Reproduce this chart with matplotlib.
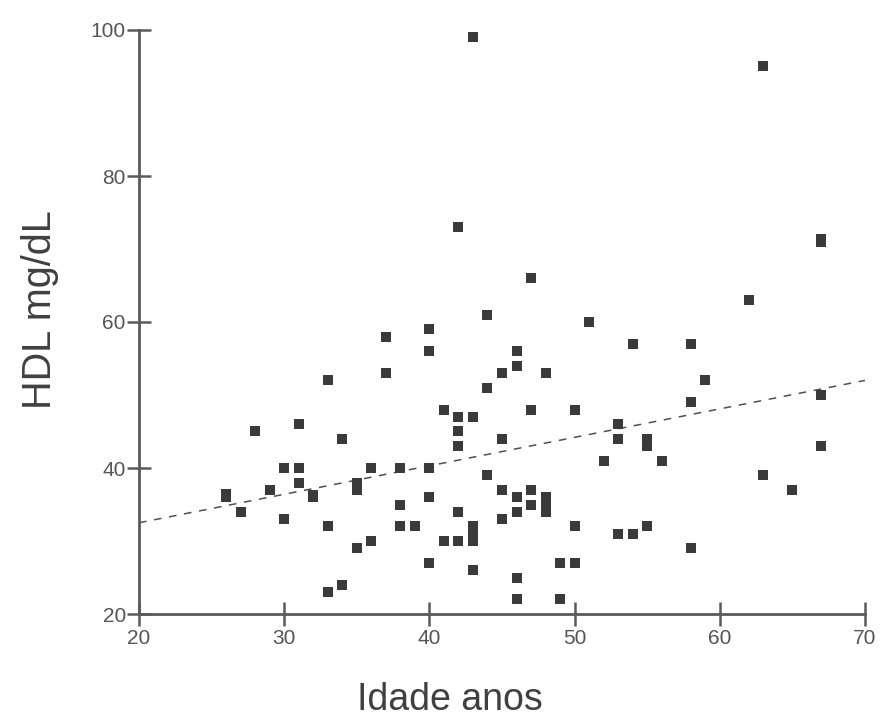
import matplotlib.pyplot as plt

# idade (anos) e HDL (mg/dL)
idade = [26, 26, 27, 28, 29, 30, 30, 31, 31, 31, 32, 32,
         33, 33, 33, 34, 34, 35, 35, 35, 36, 36, 37, 37,
         38, 38, 38, 39, 40, 40, 40, 40, 40, 41, 41,
         42, 42, 42, 42, 42, 42, 43, 43, 43, 43, 43, 43,
         44, 44, 44, 45, 45, 45, 45, 46, 46, 46, 46, 46, 46,
         47, 47, 47, 47, 48, 48, 48, 48, 49, 49, 50, 50, 50,
         51, 52, 53, 53, 53, 54, 54, 55, 55, 55, 56,
         58, 58, 58, 59, 62, 63, 63, 65, 67, 67, 67, 67]
hdl = [36, 36.4, 34, 45, 37, 40, 33, 46, 40, 38, 36, 36.3,
       52, 32, 23, 44, 24, 38, 37, 29, 40, 30, 58, 53,
       40, 35, 32, 32, 59, 56, 40, 36, 27, 48, 30,
       73, 47, 45, 43, 34, 30, 99, 47, 32, 31, 30, 26,
       61, 51, 39, 53, 44, 37, 33, 56, 54, 36, 34, 25, 22,
       66, 48, 37, 35, 53, 36, 35, 34, 27, 22, 48, 32, 27,
       60, 41, 46, 44, 31, 57, 31, 44, 43, 32, 41,
       57, 49, 29, 52, 63, 95, 39, 37, 71, 71.4, 50, 43]

# reta de regressao (extremos)
reta_x = [20, 70]
reta_y = [32.5, 52.0]

plt.rcParams['font.family'] = ['Liberation Sans', 'DejaVu Sans']

fig = plt.figure(figsize=(8.82, 7.2), dpi=100)
ax = fig.add_axes([139 / 882, 106 / 720, 726 / 882, 584 / 720])

ax.plot(reta_x, reta_y, color='#505050', lw=1.1, dashes=(5, 5), zorder=1)
ax.plot(idade, hdl, 's', color='#3a3a3a', ms=7.6, mew=0, zorder=2)

ax.set_xlim(20, 70)
ax.set_ylim(20, 100)
ax.set_xticks([20, 30, 40, 50, 60, 70])
ax.set_yticks([20, 40, 60, 80, 100])

for s in ['top', 'right']:
    ax.spines[s].set_visible(False)
for s in ['left', 'bottom']:
    ax.spines[s].set_color('#5a5a5a')
    ax.spines[s].set_linewidth(2)

ax.tick_params(direction='inout', length=17, width=1.8, color='#5a5a5a',
               labelsize=15, labelcolor='#555555')
ax.tick_params(axis='x', pad=2)
ax.tick_params(axis='y', pad=1)

# titulos dos eixos posicionados como no original
fig.text(450 / 882, 1 - 700 / 720, 'Idade anos', fontsize=27, color='#404040',
         ha='center', va='center')
fig.text(40 / 882, 1 - 310 / 720, 'HDL mg/dL', fontsize=28.5, color='#404040',
         ha='center', va='center', rotation=90)

plt.savefig('out.png', dpi=100)
